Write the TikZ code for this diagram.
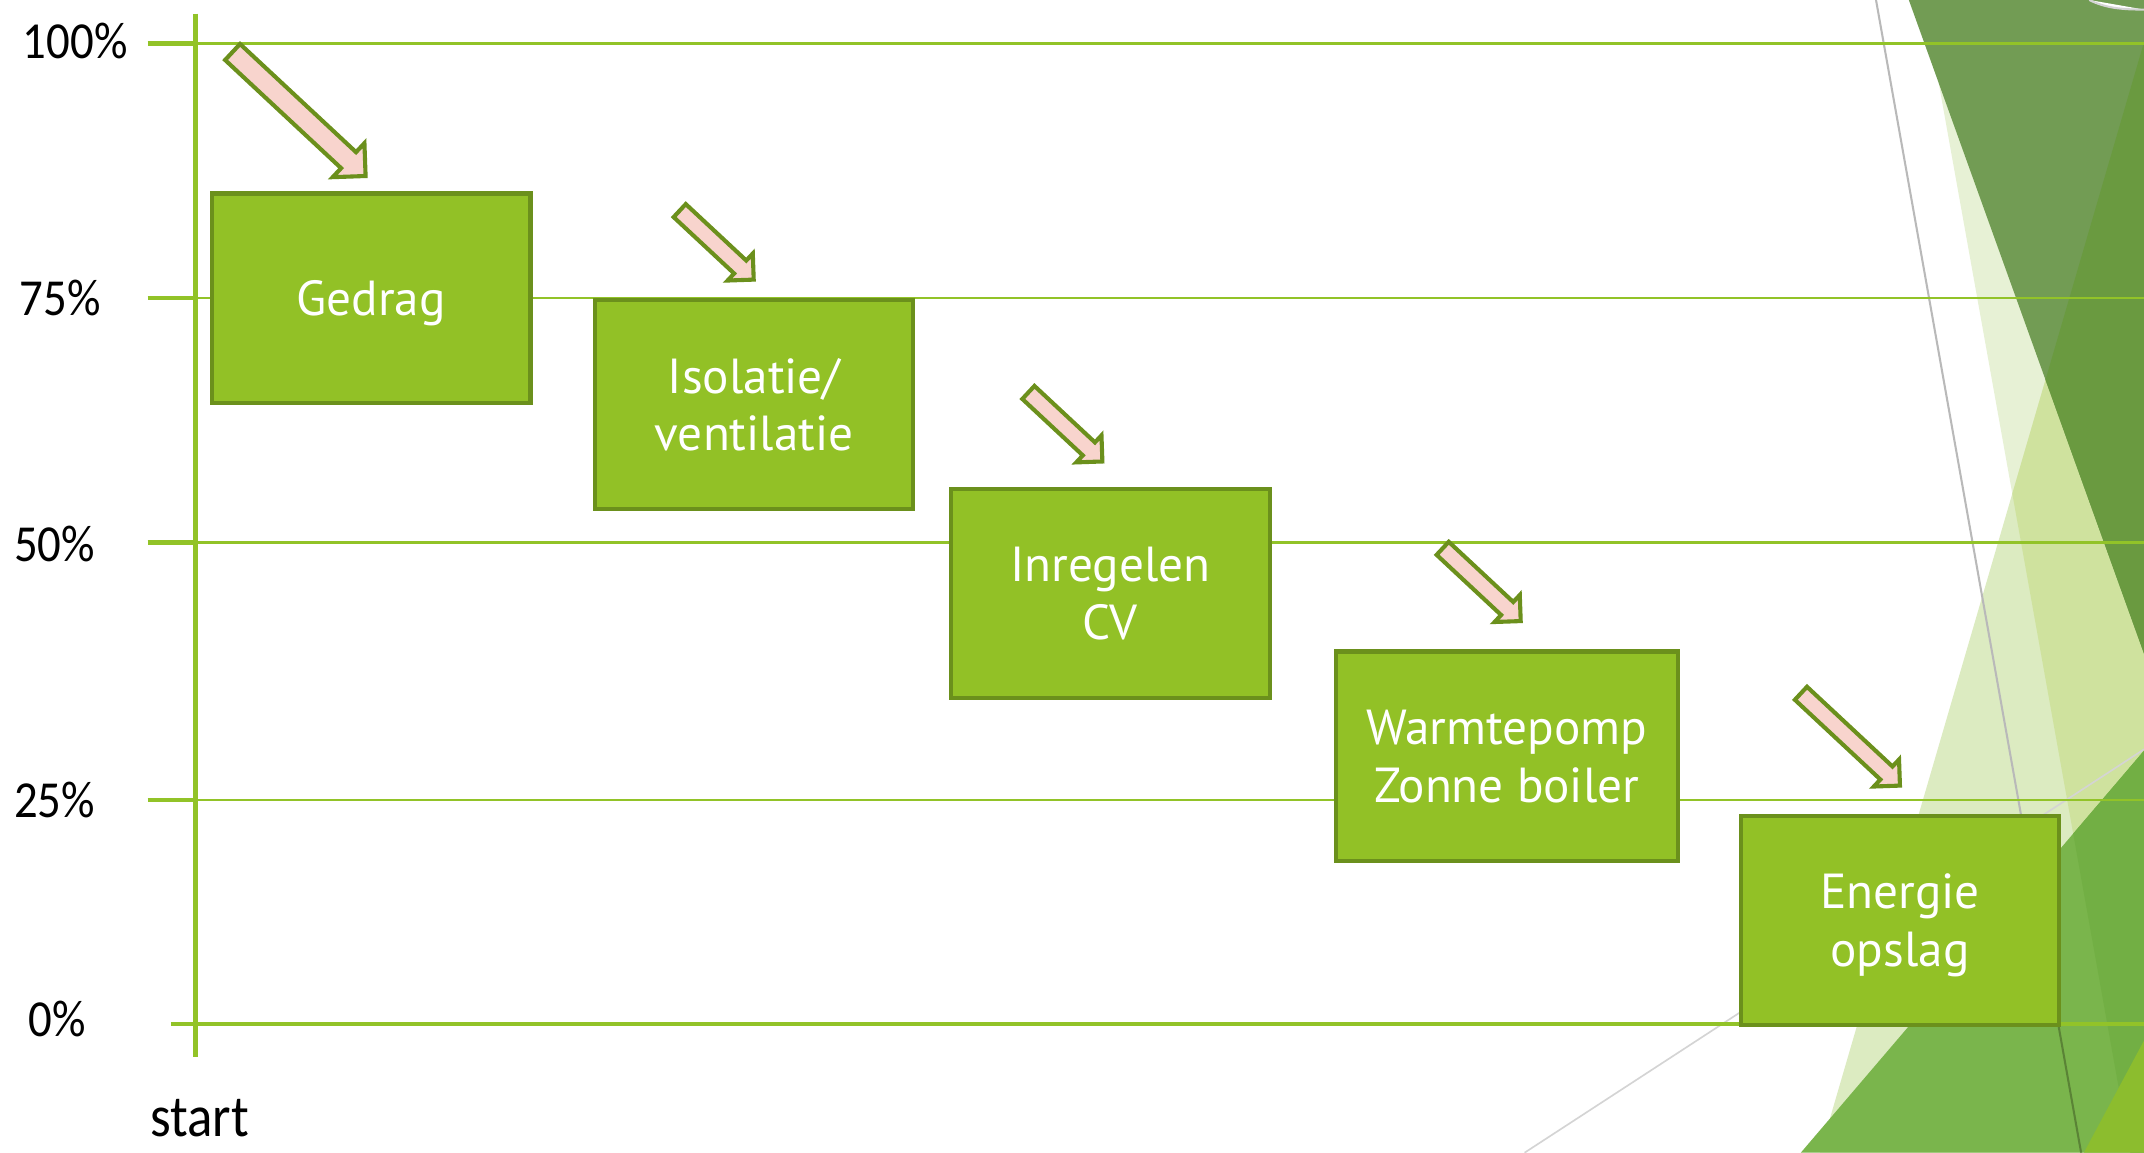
\documentclass[tikz,border=0pt]{standalone}
\usepackage{fontspec}
\setmainfont{PT Sans}
\newfontfamily\labelfont{Carlito}
\usetikzlibrary{shapes.arrows}
\definecolor{gridgreen}{RGB}{146,195,40}
\definecolor{boxgreen}{RGB}{146,193,38}
\definecolor{boxline}{RGB}{107,144,28}
\definecolor{arrowpink}{RGB}{248,212,205}
\definecolor{facetpale}{RGB}{231,241,213}
\definecolor{facetlime}{RGB}{220,235,193}
\definecolor{facetmix}{RGB}{207,226,158}
\definecolor{facetdark}{RGB}{114,156,84}
\definecolor{facetdeep}{RGB}{106,154,64}
\definecolor{facetmid}{RGB}{122,181,76}
\definecolor{facetmidp}{RGB}{114,175,68}
\definecolor{facetcorner}{RGB}{140,189,46}
\definecolor{facetgray}{RGB}{185,185,185}
\definecolor{facetlight}{RGB}{212,212,212}

\begin{document}
\begin{tikzpicture}[x=1pt,y=-1pt,line join=miter]
\tikzstyle{phase}=[rectangle,
  draw=boxline,fill=boxgreen,line width=3pt,
  text=white,align=center,text depth=0pt,
  minimum width=233pt,
  minimum height=153pt,
  font=\fontsize{36}{42}\selectfont
]

\tikzstyle{drop}=[single arrow,
  draw=boxline,fill=arrowpink,line width=3pt,
  inner xsep=0pt,inner ysep=5pt,
  single arrow head extend=7pt,
  single arrow tip angle=90,
  anchor=tail,rotate=-43
]

\tikzstyle{level}=[inner sep=0pt,xscale=.9,
  font=\labelfont\fontsize{38}{44}\selectfont
]

% background facets
\fill[white] (0,0) rectangle (1568,843);
\useasboundingbox (0,0) rectangle (1568,843);
\fill[facetpale] (1407,0) -- (1568,0) -- (1568,843) -- (1558,843) -- cycle;
\fill[facetlime] (1568,31) -- (1331,843) -- (1568,843) -- cycle;
\begin{scope}
  \clip (1568,31) -- (1331,843) -- (1568,843) -- cycle;
  \fill[facetmix] (1407,0) -- (1568,0) -- (1568,843) -- (1558,843) -- cycle;
\end{scope}
\fill[facetdark] (1396,0) -- (1568,0) -- (1568,478) -- cycle;
\begin{scope}
  \clip (1396,0) -- (1568,0) -- (1568,478) -- cycle;
  \fill[facetdeep] (1577,0) -- (1331,843) -- (1568,843) -- (1568,0) -- cycle;
\end{scope}
\draw[facetlight,line width=1.2pt] (1115,843) -- (1568,548);
\draw[facetgray,line width=1.5pt] (1372,0) -- (1522,843);
\fill[facetmid] (1317,843) -- (1568,549) -- (1568,843) -- cycle;
\begin{scope}
  \clip (1317,843) -- (1568,549) -- (1568,843) -- cycle;
  \fill[facetmidp] (1407,0) -- (1568,0) -- (1568,843) -- (1558,843) -- cycle;
  \draw[facetdeep!85!black,line width=1.5pt] (1372,0) -- (1522,843);
\end{scope}
\fill[facetcorner] (1524,843) -- (1568,761) -- (1568,843) -- cycle;
\draw[facetlight,fill=white,line width=1.5pt] (1528,0) .. controls (1540,6) and (1552,7) .. (1568,7);

% grid and axis
\foreach \y in {32,218,397,585} {
  \draw[gridgreen,line width=2pt] (143,\y) -- (1568,\y);
  \draw[gridgreen,line width=3.5pt] (108,\y) -- (143,\y);
}
\draw[gridgreen,line width=3pt] (125,749) -- (1568,749);
\draw[gridgreen,line width=3pt] (143,10) -- (143,773);

\foreach \y/\lx/\p [count=\i] in {30/55/100,218/44/75,398/40/50,585/40/25,745/42/0}
  \node[level] (pct\i) at (\lx,\y) {\p\%};
\node[level,font=\labelfont\fontsize{43}{50}\selectfont] (start) at (146,818) {start};

% steps
\node[phase] (gedrag)   at (271.5,218) {Gedrag};
\node[phase] (isolatie) at (551.5,296) {Isolatie/\\ventilatie};
\node[phase] (cv)       at (812,434)   {Inregelen\\CV};
\node[phase,minimum width=250pt] (pomp) at (1102,553) {Warmtepomp\\Zonne boiler};
\node[phase] (opslag)   at (1389.5,673) {Energie\\opslag};

% arrows
\node[drop,inner ysep=6.5pt,single arrow head extend=9pt,minimum height=133pt] (a1) at (169,37) {};
\node[drop,minimum height=74pt] (a2) at (496,153) {};
\node[drop,minimum height=74pt] (a3) at (751,286) {};
\node[drop,minimum height=78pt] (a4) at (1054,400) {};
\node[drop,minimum height=99pt] (a5) at (1316,506) {};
\end{tikzpicture}
\end{document}
